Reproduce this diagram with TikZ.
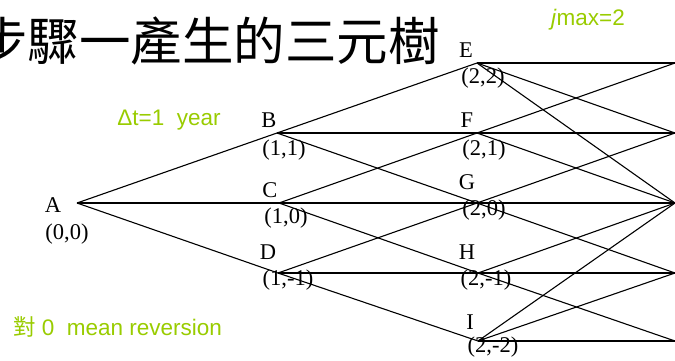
\documentclass[tikz,border=0pt]{standalone}
\usepackage{fontspec}
\setmainfont{Liberation Serif}
\setsansfont{Liberation Sans}
\newfontfamily\cjk{Noto Sans CJK TC}
\definecolor{lime}{RGB}{153,204,0}
\begin{document}
\begin{tikzpicture}[x=1pt,y=-1pt,
  lbl/.style={inner sep=0pt,font=\fontsize{22.5}{26}\selectfont},
  note/.style={inner sep=0pt,text=lime,font=\sffamily\fontsize{22.5}{26}\selectfont},
  br/.style={line width=1.1pt},
  hz/.style={line width=2.4pt}]
\useasboundingbox (0,0) rectangle (675,360);
\clip (0,0) rectangle (675,360);
\fill[white] (0,0) rectangle (675,360);
% title
\node[inner sep=0pt,anchor=west,font=\cjk\fontsize{51.5}{58}\selectfont] (title) at (-24,41) {步驟一產生的三元樹};
% notes
\node[note] (dt) at (169,120) {Δt=1\ \ year};
\node[note] (jmax) at (588,20) {\textit{j}max=2};
\node[note,anchor=west] (mr) at (13,327) {{\cjk 對} 0\ \ mean reversion};
% vertices
\coordinate (A) at (77,203);
\coordinate (B) at (277,133);
\coordinate (C) at (279,203);
\coordinate (D) at (278,273);
\coordinate (E) at (477,63);
\coordinate (F) at (477,133);
\coordinate (G) at (477,203);
\coordinate (H) at (478,273);
\coordinate (I) at (478,341);
\coordinate (E3) at (675,63);
\coordinate (F3) at (675,133);
\coordinate (G3) at (675,203);
\coordinate (H3) at (675,273);
\coordinate (I3) at (675,341);
% labels
\node[lbl] (Al) at (53,205) {A};
\node[lbl] (Ac) at (67,234) {(0,0)};
\node[lbl] (Bl) at (269,120) {B};
\node[lbl] (Bc) at (284,150) {(1,1)};
\node[lbl] (Cl) at (270,190) {C};
\node[lbl] (Cc) at (286,218) {(1,0)};
\node[lbl] (Dl) at (268,252) {D};
\node[lbl] (Dc) at (288,280) {(1,-1)};
\node[lbl] (El) at (466,50) {E};
\node[lbl] (Ec) at (483,78) {(2,2)};
\node[lbl] (Fl) at (467,120) {F};
\node[lbl] (Fc) at (484,150) {(2,1)};
\node[lbl] (Gl) at (467,182) {G};
\node[lbl] (Gc) at (484,210) {(2,0)};
\node[lbl] (Hl) at (467,252) {H};
\node[lbl] (Hc) at (486,280) {(2,-1)};
\node[lbl] (Il) at (470,322) {I};
\node[lbl] (Ic) at (493,347) {(2,-2)};
% branches step 1
\draw[br] (A) -- (B);
\draw[br] (A) -- (D);
\draw[hz] (A) -- (C);
% step 2
\draw[br] (B) -- (E);
\draw[br] (B) -- (G);
\draw[hz] (B) -- (F);
\draw[br] (C) -- (F);
\draw[br] (C) -- (H);
\draw[hz] (C) -- (G);
\draw[br] (D) -- (G);
\draw[br] (D) -- (I);
\draw[hz] (D) -- (H);
% step 3
\draw[hz] (E) -- (E3);
\draw[br] (E) -- (F3);
\draw[br] (E) -- (G3);
\draw[br] (F) -- (E3);
\draw[hz] (F) -- (F3);
\draw[br] (F) -- (G3);
\draw[br] (G) -- (F3);
\draw[hz] (G) -- (G3);
\draw[br] (G) -- (H3);
\draw[br] (H) -- (G3);
\draw[hz] (H) -- (H3);
\draw[br] (H) -- (I3);
\draw[hz] (I) -- (I3);
\draw[br] (I) -- (H3);
\draw[br] (I) -- (G3);
\end{tikzpicture}
\end{document}
